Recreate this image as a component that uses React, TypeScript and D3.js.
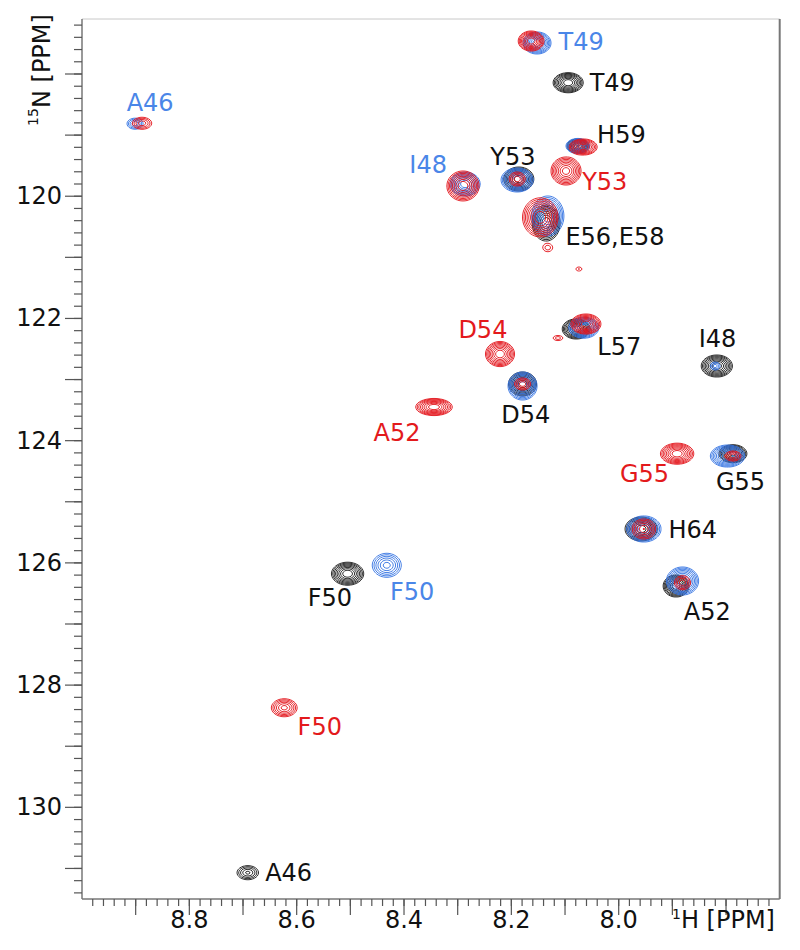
import React, { useMemo } from 'react';
import * as d3 from 'd3';

// ---- data (ppm) ----
// peaks: [1H ppm, 15N ppm, outer half-width 1H, outer half-width 15N, intensity]
const blackPeaks: number[][] = [
  [8.096, 118.126, 0.028, 0.164, 30], // T49
  [8.078, 119.162, 0.020, 0.115, 20], // H59
  [8.188, 119.702, 0.028, 0.196, 30], // Y53
  [8.137, 120.422, 0.026, 0.295, 30], // E56,E58
  [8.081, 122.156, 0.026, 0.164, 30], // L57
  [8.181, 123.056, 0.026, 0.196, 30], // D54
  [7.819, 122.762, 0.029, 0.180, 30], // I48
  [7.789, 124.197, 0.026, 0.147, 25], // G55
  [7.960, 125.429, 0.030, 0.196, 30], // H64
  [7.895, 126.362, 0.024, 0.180, 30], // A52
  [8.507, 126.161, 0.030, 0.188, 30], // F50
  [8.693, 131.053, 0.020, 0.115, 6],  // A46
];
const bluePeaks: number[][] = [
  [8.903, 118.797, 0.015, 0.090, 5],  // A46
  [8.154, 117.476, 0.026, 0.180, 30], // T49
  [8.078, 119.162, 0.022, 0.123, 20], // H59
  [8.288, 119.784, 0.028, 0.196, 30], // I48
  [8.191, 119.718, 0.030, 0.196, 30], // Y53
  [8.134, 120.307, 0.030, 0.327, 30], // E56,E58
  [8.067, 122.135, 0.028, 0.172, 30], // L57
  [8.181, 123.089, 0.027, 0.229, 30], // D54
  [7.822, 122.762, 0.009, 0.065, 3],  // I48 (weak)
  [7.799, 124.235, 0.032, 0.180, 30], // G55
  [7.955, 125.429, 0.032, 0.213, 30], // H64
  [7.883, 126.280, 0.030, 0.229, 30], // A52
  [8.434, 126.023, 0.027, 0.196, 10], // F50
];
const redPeaks: number[][] = [
  [8.890, 118.790, 0.018, 0.098, 5],  // A46
  [8.165, 117.444, 0.024, 0.164, 30], // T49
  [8.068, 119.178, 0.026, 0.131, 20], // H59
  [8.100, 119.571, 0.028, 0.229, 25], // Y53
  [8.292, 119.816, 0.030, 0.245, 30], // I48
  [8.191, 119.702, 0.015, 0.115, 5],  // inside Y53 (black)
  [8.148, 120.330, 0.033, 0.320, 30], // E56,E58
  [8.134, 120.826, 0.009, 0.065, 2],
  [8.076, 121.175, 0.0056, 0.033, 1.6],
  [8.063, 122.075, 0.028, 0.164, 30], // L57
  [8.115, 122.304, 0.009, 0.041, 2],
  [8.223, 122.566, 0.027, 0.205, 30], // D54
  [8.181, 123.056, 0.015, 0.098, 5],
  [8.346, 123.433, 0.034, 0.139, 30], // A52
  [7.893, 124.197, 0.031, 0.172, 30], // G55
  [7.789, 124.235, 0.015, 0.082, 5],
  [7.955, 125.429, 0.022, 0.164, 8],  // H64
  [7.883, 126.308, 0.015, 0.115, 5],  // A52
  [8.625, 128.354, 0.024, 0.147, 10], // F50
];

// labels: [text, 1H ppm, 15N ppm]
const blackLabels: [string, number, number][] = [
  ['T49', 8.012, 118.147],
  ['H59', 7.995, 118.998],
  ['Y53', 8.197, 119.353],
  ['E56,E58', 8.007, 120.667],
  ['L57', 7.999, 122.462],
  ['I48', 7.816, 122.336],
  ['D54', 8.173, 123.58],
  ['G55', 7.773, 124.672],
  ['H64', 7.862, 125.462],
  ['A52', 7.835, 126.799],
  ['F50', 8.538, 126.575],
  ['A46', 8.615, 131.075],
];
const blueLabels: [string, number, number][] = [
  ['A46', 8.873, 118.47],
  ['T49', 8.07, 117.471],
  ['I48', 8.355, 119.489],
  ['F50', 8.385, 126.472],
];
const redLabels: [string, number, number][] = [
  ['Y53', 8.026, 119.767],
  ['D54', 8.253, 122.189],
  ['A52', 8.413, 123.875],
  ['G55', 7.952, 124.546],
  ['F50', 8.557, 128.681],
];

const hDomain = [9.0, 7.7];
const nDomain = [117.1, 131.5];
const hTickLabels = [8.8, 8.6, 8.4, 8.2, 8.0];
const hMajor = [8.9, 8.8, 8.7, 8.6, 8.5, 8.4, 8.3, 8.2, 8.1, 8.0, 7.9, 7.8];
const nTickLabels = [120, 122, 124, 126, 128, 130];
const nMajor = [118, 119, 120, 121, 122, 123, 124, 125, 126, 127, 128, 129, 130, 131];

const BLACK = '#1a1a1a';
const BLUE = '#3373e2';
const RED = '#e3141b';
const BLUE_TXT = '#4a86e8';
const RED_TXT = '#e31a1c';
const FONT = '"DejaVu Sans", Verdana, sans-serif';

const W = 800, H = 950;
const left = 82, right = 779.7, top = 19, bottom = 899;
const SHAPE = 1.5; // line-shape exponent

export default function App() {
  const x = d3.scaleLinear().domain(hDomain).range([left, right]);
  const y = d3.scaleLinear().domain(nDomain).range([top, bottom]);

  const hMinor = d3.range(0, 64).map(i => +(7.72 + i * 0.02).toFixed(2));
  const nMinor = d3.range(0, 72).map(i => +(117.2 + i * 0.2).toFixed(1));

  const nx = Math.ceil(right - left);
  const ny = Math.ceil(bottom - top);
  const levels = d3.range(8).map(k => Math.pow(1.5, k));

  const spectra = useMemo(() => {
    const build = (peaks: number[][]) => {
      const values = new Float64Array(nx * ny);
      for (const [h, n, wh, wn, a] of peaks) {
        const cx = x(h) - left;
        const cy = y(n) - top;
        const s = Math.pow(Math.log(a), 1 / SHAPE);
        const sx = Math.abs(x(h + wh) - x(h)) / s;
        const sy = Math.abs(y(n + wn) - y(n)) / s;
        const ext = s * 1.8;
        const i0 = Math.max(0, Math.floor(cx - ext * sx));
        const i1 = Math.min(nx - 1, Math.ceil(cx + ext * sx));
        const j0 = Math.max(0, Math.floor(cy - ext * sy));
        const j1 = Math.min(ny - 1, Math.ceil(cy + ext * sy));
        for (let j = j0; j <= j1; j++) {
          const dy = (j - cy) / sy;
          for (let i = i0; i <= i1; i++) {
            const dx = (i - cx) / sx;
            const r = Math.sqrt(dx * dx + dy * dy);
            values[j * nx + i] += a * Math.exp(-Math.pow(r, SHAPE));
          }
        }
      }
      return d3.contours().size([nx, ny]).thresholds(levels)(values as any);
    };
    return [
      { color: BLACK, contours: build(blackPeaks) },
      { color: BLUE, contours: build(bluePeaks) },
      { color: RED, contours: build(redPeaks) },
    ];
  }, []);

  const path = d3.geoPath();

  return (
    <svg width={W} height={H} style={{ position: 'absolute', left: 0, top: 0, background: '#fff' }}
      fontFamily={FONT}>
      <rect x={0} y={0} width={W} height={H} fill="#fff" />
      {/* contours */}
      <g transform={`translate(${left + 0.5},${top + 0.5})`}>
        {spectra.map((s, si) => (
          <g key={si} fill="none" stroke={s.color} strokeWidth={0.9}>
            {s.contours.map((c, ci) => {
              const d = path(c as any);
              return d ? <path key={ci} d={d} /> : null;
            })}
          </g>
        ))}
      </g>

      {/* frame */}
      <line x1={left} x2={right} y1={top} y2={top} stroke="#c8c8c8" strokeWidth={1} />
      <line x1={right} x2={right} y1={top} y2={bottom} stroke="#777" strokeWidth={2} />
      <line x1={left} x2={left} y1={top} y2={bottom} stroke="#777" strokeWidth={1.5} />
      <line x1={left} x2={right} y1={bottom} y2={bottom} stroke="#777" strokeWidth={1.5} />

      {/* x ticks */}
      <g stroke="#555" strokeWidth={1.2}>
        {hMinor.map(v => (
          <line key={'hm' + v} x1={x(v)} x2={x(v)} y1={bottom} y2={bottom + 7} />
        ))}
        {hMajor.map(v => (
          <line key={'hM' + v} x1={x(v)} x2={x(v)} y1={bottom} y2={bottom + 16} />
        ))}
      </g>
      {hTickLabels.map(v => (
        <text key={'hl' + v} x={x(v)} y={927.5} textAnchor="middle" fontSize={24} fill="#111">
          {v.toFixed(1)}
        </text>
      ))}
      <text x={672} y={927.5} fontSize={24} fill="#111">
        <tspan fontSize={14} dy={-9}>1</tspan>
        <tspan dy={9}>H [PPM]</tspan>
      </text>

      {/* y ticks */}
      <g stroke="#555" strokeWidth={1.2}>
        {nMinor.map(v => (
          <line key={'nm' + v} x1={left - 8} x2={left} y1={y(v)} y2={y(v)} />
        ))}
        {nMajor.map(v => (
          <line key={'nM' + v} x1={left - 17} x2={left} y1={y(v)} y2={y(v)} />
        ))}
      </g>
      {nTickLabels.map(v => (
        <text key={'nl' + v} x={62} y={y(v)} textAnchor="end" dominantBaseline="central" fontSize={24} fill="#111">
          {v}
        </text>
      ))}
      <text transform="translate(42,70) rotate(-90)" textAnchor="middle" dominantBaseline="central" fontSize={24} fill="#111">
        <tspan fontSize={14} dy={-9}>15</tspan>
        <tspan dy={9}>N [PPM]</tspan>
      </text>

      {/* labels */}
      {[
        { list: blackLabels, color: '#111' },
        { list: blueLabels, color: BLUE_TXT },
        { list: redLabels, color: RED_TXT },
      ].map((g, gi) =>
        g.list.map(([t, h, n], li) => (
          <text key={gi + '-' + li} x={x(h)} y={y(n)} textAnchor="middle" dominantBaseline="central"
            fontSize={24} fill={g.color}>
            {t}
          </text>
        ))
      )}
    </svg>
  );
}
